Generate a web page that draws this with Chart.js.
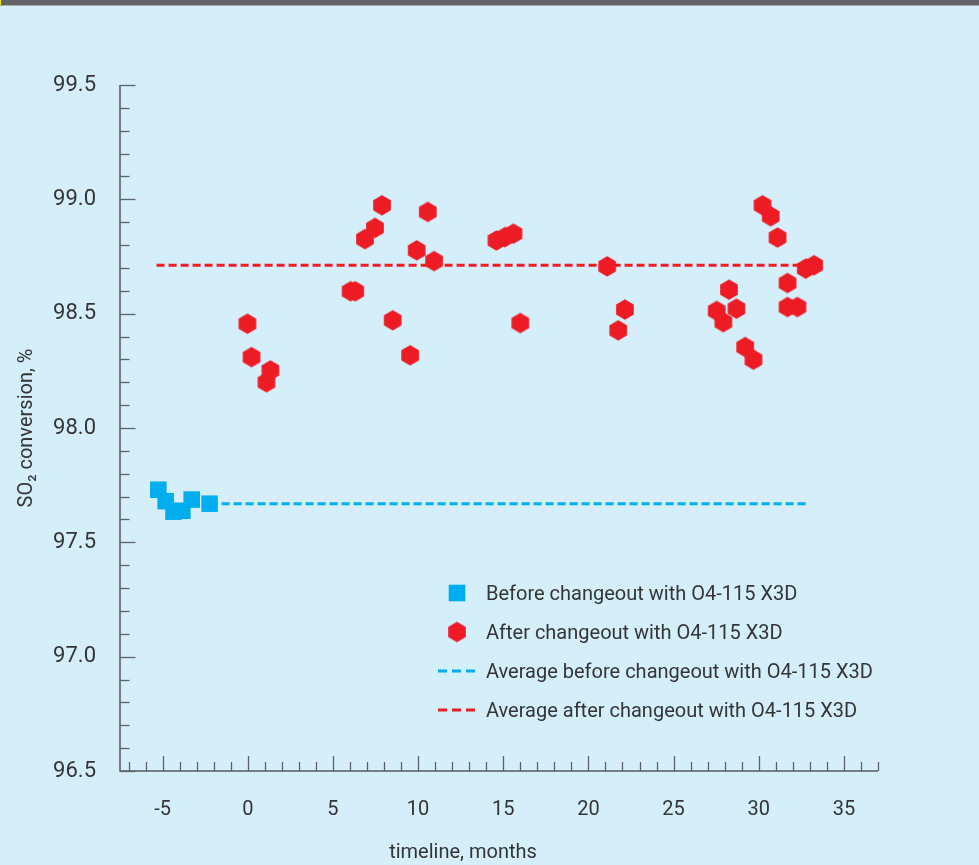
<!DOCTYPE html>
<html>
<head>
<meta charset="utf-8">
<script src="https://cdn.jsdelivr.net/npm/chart.js@4"></script>
<style>
  html, body { margin: 0; padding: 0; background: #d4eefa; }
  canvas { display: block; }
</style>
</head>
<body>
<canvas id="chart" width="979" height="865"></canvas>
<script>
// SO2 conversion before and after the catalyst changeout
const beforeMonths     = [-5.25, -4.82, -4.36, -3.84, -3.29, -2.24];
const beforeConversion = [97.73, 97.68, 97.634, 97.638, 97.687, 97.669];

const afterMonths = [
  -0.02, 0.22, 1.10, 1.33, 6.04, 6.31, 6.88, 7.47, 7.88, 8.51, 9.53, 9.92,
  10.57, 10.94, 14.60, 15.10, 15.60, 16.00, 21.10, 21.75, 22.14, 27.53, 27.92,
  28.25, 28.69, 29.20, 29.69, 30.22, 30.70, 31.10, 31.69, 31.69, 32.27, 32.76, 33.25
];
const afterConversion = [
  98.456, 98.31, 98.20, 98.252, 98.598, 98.598, 98.826, 98.875, 98.974, 98.471, 98.318, 98.777,
  98.945, 98.73, 98.82, 98.835, 98.85, 98.459, 98.707, 98.427, 98.518, 98.512, 98.463,
  98.605, 98.522, 98.354, 98.299, 98.974, 98.926, 98.833, 98.634, 98.529, 98.529, 98.697, 98.712
];

const avgBefore = 97.669;
const avgBeforeSpan = [-2.24, 32.9];
const avgAfter = 98.712;
const avgAfterSpan = [-5.35, 33.2];

const xTickValues = [-5, 0, 5, 10, 15, 20, 25, 30, 35];
const yTickValues = [96.5, 97.0, 97.5, 98.0, 98.5, 99.0, 99.5];
const xRange = [-7.5, 37];
const yRange = [96.5, 99.5];

const xTitle = 'timeline, months';
const yTitle = 'SO\u2082 conversion, %';
const legendLabels = [
  'Before changeout with O4-115 X3D',
  'After changeout with O4-115 X3D',
  'Average before changeout with O4-115 X3D',
  'Average after changeout with O4-115 X3D'
];

const BLUE = '#00aeef';
const RED = '#ed1c24';
const TEXT = '#333536';
const FONT = 'Roboto, "Liberation Sans", sans-serif';

// pointy-top hexagon marker
function makeHexagon(r, color) {
  const w = Math.ceil(2 * r * Math.cos(Math.PI / 6)) + 2;
  const h = Math.ceil(2 * r) + 2;
  const c = document.createElement('canvas');
  c.width = w; c.height = h;
  const g = c.getContext('2d');
  g.fillStyle = color;
  g.beginPath();
  for (let i = 0; i < 6; i++) {
    const a = -Math.PI / 2 + i * Math.PI / 3;
    const px = w / 2 + r * Math.cos(a);
    const py = h / 2 + r * Math.sin(a);
    if (i === 0) g.moveTo(px, py); else g.lineTo(px, py);
  }
  g.closePath();
  g.fill();
  return c;
}
const hexMarker = makeHexagon(10.2, RED);

const toPoints = (xs, ys) => xs.map((x, i) => ({ x, y: ys[i] }));

// axis lines with inward major and minor ticks, the x title, the top banner and the legend
const decorations = {
  id: 'decorations',
  beforeDraw(chart) {
    const ctx = chart.ctx;
    ctx.save();
    ctx.fillStyle = '#636466';
    ctx.fillRect(0, 0, chart.width, 5);
    ctx.fillStyle = '#a3aab0';
    ctx.fillRect(0, 5, chart.width, 1);
    ctx.fillStyle = '#f5e400';
    ctx.fillRect(0, 0, 1, 5);
    ctx.restore();
  },
  afterDatasetsDraw(chart) {
    const { ctx, chartArea: a } = chart;
    const xs = chart.scales.x, ys = chart.scales.y;
    ctx.save();
    ctx.strokeStyle = '#555a5e';
    ctx.lineWidth = 1.5;
    ctx.beginPath();
    ctx.moveTo(a.left, a.top);
    ctx.lineTo(a.left, a.bottom);
    ctx.lineTo(a.right, a.bottom);
    ctx.stroke();

    ctx.lineWidth = 1.3;
    ctx.strokeStyle = '#5e6367';
    // x ticks every month, longer every 5
    for (let v = Math.ceil(xRange[0]); v <= xRange[1]; v++) {
      const px = Math.round(xs.getPixelForValue(v)) + 0.5;
      const len = v % 5 === 0 ? 15 : 9;
      ctx.beginPath();
      ctx.moveTo(px, a.bottom);
      ctx.lineTo(px, a.bottom - len);
      ctx.stroke();
    }
    // y ticks every 0.1, longer every 0.5
    for (let k = 0; k <= Math.round((yRange[1] - yRange[0]) * 10); k++) {
      const v = yRange[0] + k / 10;
      const py = Math.round(ys.getPixelForValue(v)) + 0.5;
      const len = k % 5 === 0 ? 15.5 : 9.5;
      ctx.beginPath();
      ctx.moveTo(a.left, py);
      ctx.lineTo(a.left + len, py);
      ctx.stroke();
    }

    // x axis title
    ctx.font = '20px ' + FONT;
    ctx.fillStyle = TEXT;
    ctx.textAlign = 'center';
    ctx.textBaseline = 'middle';
    ctx.fillText(xTitle, a.left + 343, a.bottom + 82);

    // legend
    const lx = a.left + 337, tx = a.left + 366;
    const rows = [a.top + 508, a.top + 547, a.top + 586, a.top + 625];
    ctx.font = '20px ' + FONT;
    ctx.textAlign = 'left';
    legendLabels.forEach((t, i) => ctx.fillText(t, tx, rows[i] + 1.5));

    ctx.fillStyle = BLUE;
    ctx.fillRect(lx - 8.3, rows[0] - 8.3, 16.6, 16.6);
    ctx.drawImage(hexMarker, lx - hexMarker.width / 2, rows[1] - hexMarker.height / 2);

    [[BLUE, rows[2]], [RED, rows[3]]].forEach(([col, y]) => {
      ctx.strokeStyle = col;
      ctx.lineWidth = 3;
      ctx.setLineDash([9, 5]);
      ctx.beginPath();
      ctx.moveTo(lx - 19, y);
      ctx.lineTo(lx + 19, y);
      ctx.stroke();
    });
    ctx.restore();
  }
};

new Chart(document.getElementById('chart'), {
  type: 'scatter',
  data: {
    datasets: [
      {
        label: legendLabels[0],
        data: toPoints(beforeMonths, beforeConversion),
        pointStyle: 'rect',
        pointRadius: 11.7,
        backgroundColor: BLUE,
        borderWidth: 0
      },
      {
        label: legendLabels[1],
        data: toPoints(afterMonths, afterConversion),
        pointStyle: hexMarker,
        backgroundColor: RED,
        borderWidth: 0
      },
      {
        type: 'line',
        label: legendLabels[2],
        data: toPoints(avgBeforeSpan, [avgBefore, avgBefore]),
        borderColor: BLUE,
        borderWidth: 3,
        borderDash: [8, 4],
        pointRadius: 0,
        fill: false
      },
      {
        type: 'line',
        label: legendLabels[3],
        data: toPoints(avgAfterSpan, [avgAfter, avgAfter]),
        borderColor: RED,
        borderWidth: 3,
        borderDash: [8, 4],
        pointRadius: 0,
        fill: false
      }
    ]
  },
  options: {
    responsive: false,
    animation: false,
    devicePixelRatio: 1,
    layout: { padding: { left: 0, right: 101, top: 85, bottom: 0 } },
    plugins: { legend: { display: false }, tooltip: { enabled: false } },
    scales: {
      x: {
        type: 'linear',
        min: xRange[0],
        max: xRange[1],
        grid: { display: false },
        border: { display: false },
        afterBuildTicks: s => { s.ticks = xTickValues.map(v => ({ value: v })); },
        afterFit: s => { s.height = 94; },
        ticks: {
          padding: 19,
          color: TEXT,
          font: { family: FONT, size: 20 },
          callback: v => String(v),
          maxRotation: 0
        },
        title: { display: false }
      },
      y: {
        type: 'linear',
        min: yRange[0],
        max: yRange[1],
        grid: { display: false },
        border: { display: false },
        afterBuildTicks: s => { s.ticks = yTickValues.map(v => ({ value: v })); },
        afterFit: s => { s.width = 120; },
        ticks: {
          padding: 16,
          color: TEXT,
          font: { family: FONT, size: 22 },
          callback: v => v.toFixed(1)
        },
        title: {
          display: true,
          text: yTitle,
          color: TEXT,
          font: { family: FONT, size: 20 },
          padding: { top: 15, bottom: 0 }
        }
      }
    }
  },
  plugins: [decorations]
});
</script>
</body>
</html>
